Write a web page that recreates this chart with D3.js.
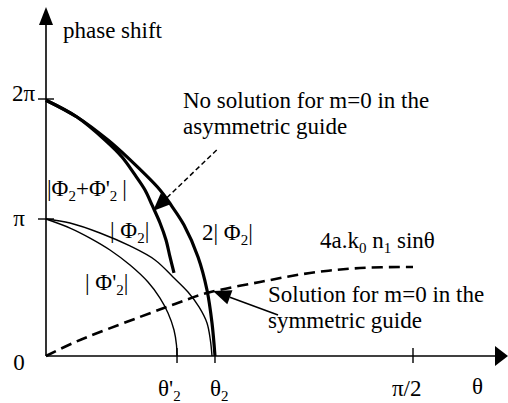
<!DOCTYPE html>
<html><head><meta charset="utf-8">
<script src="https://cdn.jsdelivr.net/npm/d3@7"></script>
<style>
body{margin:0;background:#fff}
text{font-family:"Liberation Serif","Times New Roman",serif;fill:#000}
</style></head><body>
<svg id="chart" width="508" height="403"></svg>
<script>
// θ in degrees, phase shift in multiples of π
const curveTwicePhi2 = [[0,1.99],[7.6,1.85],[15.2,1.658],[19.86,1.517],[27.96,1.242],[30.65,1.117],[33.84,0.956],[37.28,0.723],[39.48,0.482],[40.71,0.241],[41.44,0]];
const curvePhiSum = [[0,1.99],[7.6,1.85],[14.47,1.658],[18.64,1.517],[21.83,1.367],[24.28,1.242],[25.99,1.117],[27.96,0.971],[29.43,0.847],[30.41,0.723],[31.39,0.606]];
const curvePhi2 = [[0,1],[5.89,0.971],[13.24,0.898],[20.6,0.803],[26.73,0.701],[31.14,0.577],[34.82,0.467],[37.52,0.358],[39.48,0.241],[40.3,0.117],[40.71,0]];
const curvePhi2p = [[0,1],[5.89,0.934],[10.79,0.861],[15.69,0.774],[20.6,0.664],[25.01,0.54],[27.96,0.423],[29.92,0.314],[31.39,0.19],[32.0,0.08],[32.13,0]];
const curveSinTerm = [[0,0],[6.62,0.095],[13.24,0.175],[23.05,0.285],[31.63,0.38],[39.48,0.46],[52.48,0.54],[64.74,0.606],[77,0.642],[90,0.65]];

const yTickValues = [0, 1, 2];
const yTickLabels = ["0", "π", "2π"];
const xTickValues = [32.13, 41.44, 90];
const xTickLabels = [[["θ'"],["2",1]], [["θ"],["2",1]], [["π/2"]]];

// annotation arrows: [from, tip] in data units
const arrowNoSolution = [[41.86,1.575],[26.24,1.066]];
const arrowSolution = [[56.9,0.299],[40.95,0.474]];

const svg = d3.select("#chart");
const x = d3.scaleLinear().domain([0, 90]).range([46, 413]);
const y = d3.scaleLinear().domain([0, 1, 2]).range([356, 219, 99]);
const line = d3.line().x(d => x(d[0])).y(d => y(d[1])).curve(d3.curveCatmullRom.alpha(0.5));

// text with subscripts: segments [text, isSub, dx]
function rich(px, py, segs, size, anchor) {
  const t = svg.append("text").attr("x", px).attr("y", py)
    .attr("font-size", size || 23).attr("text-anchor", anchor || "start");
  segs.forEach((s, i) => {
    const sp = t.append("tspan").text(s[0]);
    if (s[1]) sp.attr("font-size", 15).attr("dy", 5);
    else if (i > 0 && segs[i - 1][1]) sp.attr("dy", -5);
    if (s[2]) sp.attr("dx", s[2]);
  });
  return t;
}

// axes
const x0 = x(0), yBase = y(0);
svg.append("line").attr("x1", x0).attr("y1", 22).attr("x2", x0).attr("y2", yBase)
  .attr("stroke", "#000").attr("stroke-width", 1.6);
svg.append("line").attr("x1", x0).attr("y1", yBase).attr("x2", 497).attr("y2", yBase)
  .attr("stroke", "#000").attr("stroke-width", 1.6);
svg.append("path").attr("d", `M${x0},7L${x0-7},25L${x0+7},25Z`).attr("fill", "#000");
svg.append("path").attr("d", `M508,${yBase}L495,${yBase-10}L495,${yBase+10}Z`).attr("fill", "#000");

// y ticks
yTickValues.forEach(v => {
  if (v > 0) svg.append("line").attr("x1", 38).attr("x2", 54).attr("y1", y(v)).attr("y2", y(v))
    .attr("stroke", "#000").attr("stroke-width", 1.4);
});
rich(19, 370, [[yTickLabels[0]]], 23, "middle");
rich(19, 226, [[yTickLabels[1]]], 23, "middle");
rich(35, 101, [[yTickLabels[2]]], 23, "end");

// x ticks
xTickValues.forEach(v => {
  svg.append("line").attr("x1", x(v)).attr("x2", x(v)).attr("y1", 348).attr("y2", 363)
    .attr("stroke", "#000").attr("stroke-width", 1.4);
});
rich(x(xTickValues[0]) - 19, 396, xTickLabels[0]);
rich(x(xTickValues[1]) - 5, 396, xTickLabels[1]);
rich(x(xTickValues[2]) - 21, 396, xTickLabels[2]);
rich(472, 394, [["θ"]]);
rich(63, 38, [["phase shift"]]);

// curves
svg.append("path").attr("d", line(curveSinTerm)).attr("fill", "none").attr("stroke", "#000")
  .attr("stroke-width", 2.6).attr("stroke-dasharray", "11,6");
svg.append("path").attr("d", line(curvePhi2)).attr("fill", "none").attr("stroke", "#000").attr("stroke-width", 1.4);
svg.append("path").attr("d", line(curvePhi2p)).attr("fill", "none").attr("stroke", "#000").attr("stroke-width", 1.4);
svg.append("path").attr("d", line(curvePhiSum)).attr("fill", "none").attr("stroke", "#000").attr("stroke-width", 3.2);
svg.append("path").attr("d", line(curveTwicePhi2)).attr("fill", "none").attr("stroke", "#000").attr("stroke-width", 3.2);

// pointer arrows
function arrow(pts, dashed, len, half) {
  const p0 = [x(pts[0][0]), y(pts[0][1])], p1 = [x(pts[1][0]), y(pts[1][1])];
  const dx = p1[0] - p0[0], dy = p1[1] - p0[1], L = Math.hypot(dx, dy);
  const ux = dx / L, uy = dy / L;
  const bx = p1[0] - ux * len, by = p1[1] - uy * len;
  svg.append("line").attr("x1", p0[0]).attr("y1", p0[1]).attr("x2", bx).attr("y2", by)
    .attr("stroke", "#000").attr("stroke-width", 1.5).attr("stroke-dasharray", dashed ? "5,3" : null);
  svg.append("path").attr("d", `M${p1[0]},${p1[1]}L${bx - uy*half},${by + ux*half}L${bx + uy*half},${by - ux*half}Z`)
    .attr("fill", "#000");
}
arrow(arrowNoSolution, true, 18, 7.5);
arrow(arrowSolution, false, 18, 7.5);

// labels
rich(183, 108, [["No solution for m=0 in the"]]);
rich(183, 134, [["asymmetric guide"]]);
rich(268, 302, [["Solution for m=0 in the"]]);
rich(268, 328, [["symmetric guide"]]);
rich(47, 196, [["|Φ"],["2",1],["+Φ'"],["2",1],["|",0,5]]);
rich(110, 238, [["| Φ"],["2",1],["|"]]);
rich(202, 240, [["2| Φ"],["2",1],["|"]]);
rich(85, 290, [["| Φ'"],["2",1],["|"]]);
rich(320, 248, [["4a.k"],["0",1],[" n"],["1",1],[" sin"],["θ"]]);
</script>
</body></html>
